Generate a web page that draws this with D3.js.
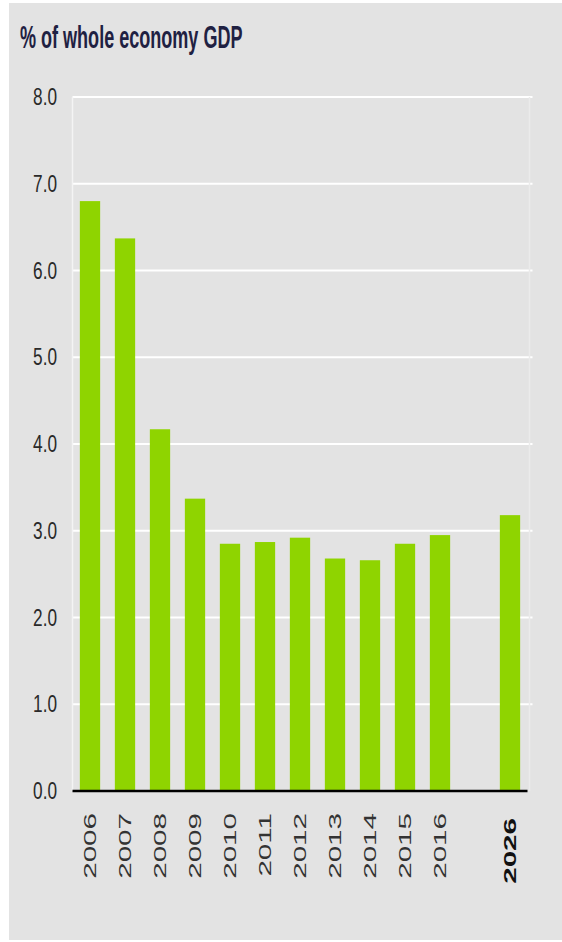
<!DOCTYPE html>
<html>
<head>
<meta charset="utf-8">
<script src="https://cdn.jsdelivr.net/npm/d3@7"></script>
<style>
  body { margin: 0; background: #ffffff; }
  svg { display: block; }
</style>
</head>
<body>
<div id="chart"></div>
<script>
// chart data
var years = ["2006", "2007", "2008", "2009", "2010", "2011", "2012", "2013", "2014", "2015", "2016", "2026"];
var values = [6.80, 6.37, 4.17, 3.37, 2.85, 2.87, 2.92, 2.68, 2.66, 2.85, 2.95, 3.18];
var yTicks = [0, 1, 2, 3, 4, 5, 6, 7, 8];
var titleText = "% of whole economy GDP";

var width = 562, height = 942;
var plot = { left: 72.5, right: 527.5, top: 97, bottom: 791 };

var svg = d3.select("#chart")
  .append("svg")
  .attr("width", width)
  .attr("height", height);

// grey panel
svg.append("rect")
  .attr("x", 9)
  .attr("y", 3)
  .attr("width", width - 9)
  .attr("height", 937)
  .attr("fill", "#e3e3e3");

// an empty slot sits between 2016 and 2026
var domain = years.slice(0, 11).concat(["gap"], years.slice(11));

var x = d3.scaleBand()
  .domain(domain)
  .range([plot.left, plot.right])
  .paddingInner(0.42)
  .paddingOuter(0.21);

var y = d3.scaleLinear()
  .domain([0, 8])
  .range([plot.bottom, plot.top]);

// title (condensed and tall, as in the source image)
svg.append("text")
  .attr("transform", "translate(20,48) scale(0.82,1.45)")
  .style("font-family", "'Liberation Sans', Arial, sans-serif")
  .style("font-weight", "bold")
  .style("font-size", "22px")
  .attr("fill", "#1f2142")
  .text(titleText);

// gridlines
svg.append("g")
  .selectAll("line")
  .data(yTicks.filter(d => d > 0))
  .enter()
  .append("line")
  .attr("x1", plot.left)
  .attr("x2", plot.right + 5)
  .attr("y1", d => y(d))
  .attr("y2", d => y(d))
  .attr("stroke", "#ffffff")
  .attr("stroke-width", 2);

// faint plot frame
svg.append("line")
  .attr("x1", plot.left).attr("x2", plot.left)
  .attr("y1", plot.top).attr("y2", plot.bottom)
  .attr("stroke", "#f4f4f4")
  .attr("stroke-width", 1.5);
svg.append("line")
  .attr("x1", plot.right + 2).attr("x2", plot.right + 2)
  .attr("y1", plot.top).attr("y2", plot.bottom)
  .attr("stroke", "#ebebeb")
  .attr("stroke-width", 1.5);

// y axis labels
var ySx = 0.82, ySy = 1.13;
var yAxis = svg.append("g")
  .attr("transform", "translate(" + plot.left + ",0)")
  .call(d3.axisLeft(y).tickValues(yTicks).tickFormat(d3.format(".1f")).tickSize(0));
yAxis.select(".domain").remove();
yAxis.selectAll("text")
  .attr("transform", "scale(" + ySx + "," + ySy + ")")
  .attr("x", -15.5 / ySx)
  .style("font-family", "'Liberation Sans', Arial, sans-serif")
  .style("font-size", "21px")
  .attr("fill", "#2a2a2a");

// bars
svg.append("g")
  .selectAll("rect")
  .data(years.map((d, i) => ({ year: d, value: values[i] })))
  .enter()
  .append("rect")
  .attr("x", d => x(d.year))
  .attr("y", d => y(d.value))
  .attr("width", x.bandwidth())
  .attr("height", d => y(0) - y(d.value))
  .attr("fill", "#8fd400");

// x axis baseline
svg.append("line")
  .attr("x1", plot.left)
  .attr("x2", plot.right)
  .attr("y1", y(0))
  .attr("y2", y(0))
  .attr("stroke", "#000000")
  .attr("stroke-width", 2.5);

// x axis labels, rotated and stretched along their length
var stretch = 1.85;
var xAxis = svg.append("g")
  .attr("transform", "translate(0," + plot.bottom + ")")
  .call(d3.axisBottom(x).tickValues(years).tickSize(0));
xAxis.select(".domain").remove();
xAxis.selectAll("text")
  .attr("transform", "rotate(-90) scale(" + stretch + ",1)")
  .attr("x", d => -(d === "2026" ? 27 : 22) / stretch)
  .attr("y", 0)
  .attr("dy", "0.35em")
  .style("text-anchor", "end")
  .style("font-family", "'Liberation Sans', Arial, sans-serif")
  .style("font-size", "16px")
  .style("font-weight", d => d === "2026" ? "bold" : "normal")
  .attr("fill", d => d === "2026" ? "#111111" : "#333333");
</script>
</body>
</html>
